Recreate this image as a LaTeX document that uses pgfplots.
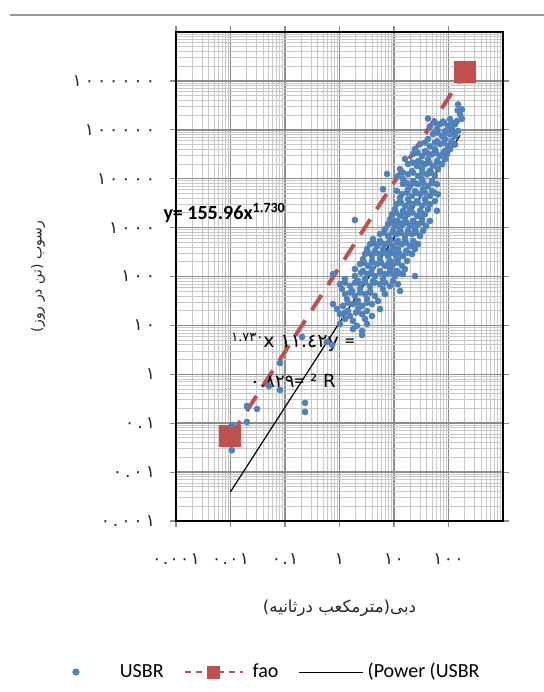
\documentclass[border=0pt]{standalone}
\usepackage{fontspec}
\setmainfont{Carlito}
\newfontfamily\arabicfont[Script=Arabic]{DejaVu Sans}
\newfontfamily\digitfont[Script=Arabic, LetterSpace=18]{DejaVu Sans}
\newfontfamily\xdigitfont[Script=Arabic, LetterSpace=8]{DejaVu Sans}
\usepackage{pgfplots}
\pgfplotsset{compat=1.18}
\TeXXeTstate=1
\definecolor{usbr}{RGB}{79,129,189}
\definecolor{fao}{RGB}{192,80,77}
\definecolor{majg}{RGB}{140,140,140}
\definecolor{ming}{RGB}{200,200,200}

\pgfplotstableread{
x y
150 330000
147 250000
177 262000
163 205000
42.1 170000
79.2 148000
107 165000
144 152000
177 168000
45.8 118000
69.8 132000
98 120000
132 130000
61.5 105000
86.3 93000
116 102000
150 95000
52 82000
75.9 74000
107 81000
132 75000
42.1 65000
61.5 58000
86.3 64000
116 59000
30 51000
45.8 46000
69.8 51000
98 46500
132 50000
24.3 40500
37.1 36500
56.5 40000
86.3 37000
107 40000
22.4 32000
32.6 29000
49.8 31500
69.8 29500
93.9 32000
15.9 25300
27.6 23000
42.1 25000
61.5 23000
86.3 25000
18 20000
26.4 18200
37.1 19800
52 18300
75.9 19800
12.9 15800
21.4 14400
32.6 15700
45.8 14500
64.1 15600
7.44 12500
11.8 11300
18 12300
27.6 11400
40.4 12300
56.5 11500
14.6 9800
22.4 9000
32.6 9800
49.8 9000
14.6 7800
19.7 7100
27.6 7700
42.1 7100
61.5 7700
6.28 6100
11.3 5600
18 6100
24.3 5600
34.1 6100
49.8 5600
14 4850
21.4 4450
30 4800
45.8 4450
64.1 4800
12.9 4150
12.9 3500
18 3800
26.4 3500
37.1 3800
56.5 3500
11.3 3030
15.9 2780
22.4 3000
32.6 2780
45.8 3000
10.4 2390
14.6 2200
19.7 2380
30 2200
42.1 2380
61.5 2200
9.19 1890
12.9 1730
18 1880
26.4 1730
37.1 1880
1.92 1430
8.45 1490
11.3 1370
15.9 1490
22.4 1370
32.6 1490
45.8 1370
7.76 1180
10.4 1080
14.6 1180
19.7 1080
27.6 1180
38.7 1080
6.84 930
9.59 855
12.9 930
18 855
24.3 930
34.1 855
5.53 740
7.76 675
11.3 740
15.9 675
21.4 740
30 675
4.12 580
5.53 535
8.45 580
11.8 535
15.9 580
22.4 535
3.63 460
4.87 420
6.84 460
9.59 420
14 460
19.7 420
27.6 460
3.2 365
4.48 333
6.28 365
8.45 333
11.8 365
16.6 333
24.3 365
2.94 288
3.95 263
5.53 288
7.76 263
10.4 288
14.6 263
21.4 288
2.7 227
3.95 208
5.53 227
8.45 208
11.8 227
17.3 208
2.38 180
3.34 165
4.87 180
6.84 165
9.59 180
14 165
1.92 142
2.7 130
3.95 142
5.53 130
8.45 142
11.3 130
15.9 142
0.76 112
1.92 102
3.2 112
4.48 102
6.84 112
10.4 102
14.6 112
24.3 102
1.26 88.5
2.18 81
2.94 88.5
4.12 81
6.28 88.5
9.59 81
1.02 70
1.56 64
2.38 70
3.63 64
5.53 70
8.45 64
11.8 70
1.11 55.4
1.7 50.7
2.38 55.4
3.63 50.7
6.28 55.4
12.9 50.7
1.26 43.8
1.92 40
2.94 43.8
4.48 40
6.84 43.8
1.37 34.5
2.18 31.6
3.2 34.5
5.08 31.6
0.76 27.3
1.16 25
1.77 27.3
2.59 25
3.95 27.3
0.9 21.6
1.43 19.8
2.18 21.6
3.2 19.8
5.53 21.6
1.02 17
1.56 15.6
2.59 17
3.95 15.6
1.26 13.5
1.77 12.3
2.94 13.5
1.02 10.7
2.09 9.8
3.2 10.7
1.77 8.4
2.59 7.7
2.59 6.36
56.5 140000
82.7 140000
114 140000
62.8 88000
90 88000
119 88000
37.1 55000
56.5 55000
82.7 55000
114 55000
27 34000
40.3 34000
59 34000
81 34000
21.8 21400
31.3 21400
43.9 21400
62.8 21400
14.6 13300
22.3 13300
33.4 13300
47.8 13300
17 8300
23.3 8300
34.1 8300
50.9 8300
17.3 5200
25.3 5200
37.1 5200
54.2 5200
13.4 3250
18.9 3250
27 3250
38.6 3250
10.9 2030
15.2 2030
21.8 2030
31.3 2030
9 1270
12.3 1270
17 1270
23.3 1270
32.7 1270
6.55 790
9.36 790
13.4 790
18.4 790
25.3 790
4.2 494
5.77 494
8.1 494
11.6 494
16.6 494
23.3 494
3.41 308
4.67 308
6.55 308
9 308
12.3 308
17.7 308
2.82 193
4.03 193
5.77 193
8.1 193
11.6 193
2.48 120
3.79 120
5.54 120
8.43 120
12.3 120
1.26 75
1.93 75
2.94 75
4.48 75
6.84 75
1.56 47
2.38 47
3.63 47
1.43 29.2
2.14 29.2
3.2 29.2
1.26 18.3
2.01 18.3
0.73 4.0
0.59 4.6
0.233 0.17
0.233 0.26
0.205 5.8
0.081 1.70
0.081 0.478
0.0508 0.577
0.0306 0.195
0.020 0.225
0.020 0.106
0.0106 0.028
0.0106 0.092
}\usbrdata

\begin{document}
\begin{tikzpicture}
\path[use as bounding box] (-88pt,-85.5pt) rectangle (184pt,260.5pt);
\draw[line width=1pt, black!40] (-83pt,253pt) -- (184pt,253pt);
\begin{axis}[
  at={(0,0)}, anchor=south west,
  scale only axis, width=163.5pt, height=244.5pt,
  xmode=log, ymode=log,
  xmin=0.001, xmax=1000, ymin=0.001, ymax=10000000,
  xtick={0.001,0.01,0.1,1,10,100},
  xticklabels={۰.۰۰۱,۰.۰۱,۰.۱,۱,۱۰,۱۰۰},
  ytick={0.001,0.01,0.1,1,10,100,1000,10000,100000,1000000},
  yticklabels={۰.۰۰۱,۰.۰۱,۰.۱,۱,۱۰,۱۰۰,۱۰۰۰,۱۰۰۰۰,۱۰۰۰۰۰,۱۰۰۰۰۰۰},
  minor xtick={0.002,0.003,0.004,0.005,0.006,0.007,0.008,0.009,0.02,0.03,0.04,0.05,0.06,0.07,0.08,0.09,0.2,0.3,0.4,0.5,0.6,0.7,0.8,0.9,2,3,4,5,6,7,8,9,20,30,40,50,60,70,80,90,200,300,400,500,600,700,800,900},
  minor ytick={0.002,0.003,0.004,0.005,0.006,0.007,0.008,0.009,0.02,0.03,0.04,0.05,0.06,0.07,0.08,0.09,0.2,0.3,0.4,0.5,0.6,0.7,0.8,0.9,2,3,4,5,6,7,8,9,20,30,40,50,60,70,80,90,200,300,400,500,600,700,800,900,2000,3000,4000,5000,6000,7000,8000,9000,20000,30000,40000,50000,60000,70000,80000,90000,200000,300000,400000,500000,600000,700000,800000,900000,2000000,3000000,4000000,5000000,6000000,7000000,8000000,9000000},
  yticklabel style={font=\digitfont\fontsize{8.5}{10}\selectfont, text=black!85, xshift=-4pt},
  xticklabel style={font=\xdigitfont\fontsize{8.5}{10}\selectfont, text=black!85, yshift=-10pt},
  tick align=outside, major tick length=3pt, minor tick length=0pt,
  tick style={majg, line width=0.6pt},
  grid=both,
  major grid style={majg, line width=0.75pt},
  minor grid style={ming, line width=0.45pt},
  axis line style={black, line width=0.8pt},
  clip=false,
  xlabel={\arabicfont\beginR دبی(مترمکعب درثانیه)\endR},
  ylabel={\arabicfont\beginR رسوب (تن در روز)\endR},
  xlabel style={at={(axis description cs:0.5,-0.178)}, anchor=center, font=\fontsize{8.3}{10}\selectfont, text=black!85},
  ylabel style={at={(axis description cs:-0.422,0.5)}, anchor=center, font=\fontsize{7}{8}\selectfont, text=black!85},
  legend style={at={(0.305,-0.309)}, anchor=center, draw=none, fill=none,
    legend columns=-1, font=\fontsize{10}{12}\selectfont,
    /tikz/every even column/.append style={column sep=8pt}},
]
\addplot[fao, line width=2pt, dash pattern=on 9pt off 6pt, mark=square*, mark size=4.5pt, mark options={solid, fill=fao, draw=fao}, forget plot]
  coordinates {(0.01,0.0541) (200,1493000)};
\addplot[only marks, mark=*, mark size=1.45pt, color=usbr, mark options={draw=none, fill=usbr},
  legend image code/.code={\path[draw=none,fill=none] (0pt,0pt) -- (24pt,0pt); \fill[usbr] (4pt,0pt) circle (1.6pt);}]
  table[x=x, y=y] {\usbrdata};
\addlegendentry{USBR}
\addlegendimage{legend image code/.code={
  \path[draw=none,fill=none] (0pt,0pt) -- (32pt,0pt);
  \draw[fao, line width=1pt, dash pattern=on 3pt off 2.5pt] (0pt,0pt) -- (29pt,0pt);
  \fill[fao] (11.5pt,-3pt) rectangle (17.5pt,3pt);}}
\addlegendentry{fao}
\addplot[black, line width=0.6pt, legend image code/.code={\draw[black, line width=0.6pt] (0pt,0pt) -- (32pt,0pt);}]
  coordinates {(0.01,0.00396) (163,76700)};
\addlegendentry{(Power (USBR}
\node[anchor=west, font=\bfseries\fontsize{10}{12}\selectfont, inner sep=0pt] at (axis cs:0.00058,2000) {y= 155.96x\textsuperscript{1.730}};
\node[anchor=west, font=\arabicfont\fontsize{9.5}{11}\selectfont, inner sep=0pt] at (axis cs:0.0102,4.6) {\raisebox{3pt}{\fontsize{6.5}{7}\selectfont ۱.۷۳۰}x ۱۱.٤٢y {\rmfamily\fontsize{10}{11}\selectfont =}};
\node[anchor=west, font=\arabicfont\fontsize{9}{10}\selectfont, inner sep=0pt] at (axis cs:0.0225,0.73) {۰.۸۲۹{\rmfamily\fontsize{10}{11}\selectfont =} ² R};
\end{axis}
\end{tikzpicture}
\end{document}
